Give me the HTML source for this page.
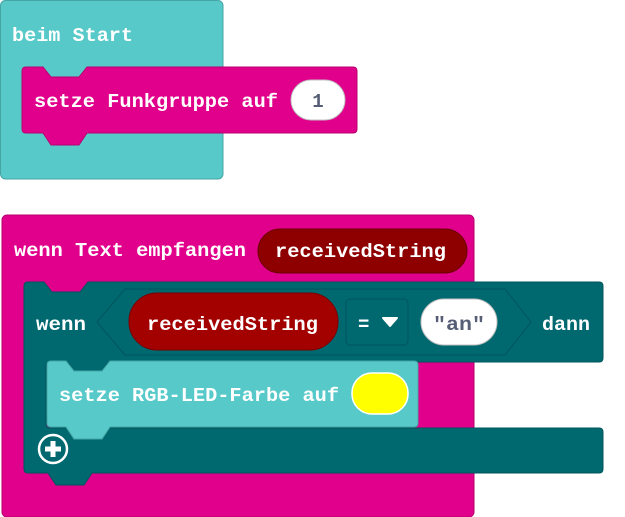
<!DOCTYPE html>
<html><head><meta charset="utf-8"><style>
html,body{margin:0;padding:0;background:#fff;width:625px;height:517px;overflow:hidden}
text{font-family:"Liberation Mono","DejaVu Sans Mono",monospace;font-weight:bold;font-size:19px;fill:#fff}
</style></head><body>
<svg width="625" height="517" viewBox="0 0 625 517" xmlns="http://www.w3.org/2000/svg">
<!-- beim Start -->
<rect x="0.5" y="0.5" width="222.5" height="178.5" rx="5" fill="#57c9c9" stroke="#45a5a5"/>
<text x="12" y="41" textLength="121" lengthAdjust="spacingAndGlyphs">beim Start</text>
<path d="M26,67 H43 L51,77 H79 L87,67 H353 q4,0 4,4 V129 q0,4 -4,4 H87 L79,145 H51 L43,133 H26 q-4,0 -4,-4 V71 q0,-4 4,-4Z" fill="#e1008b" stroke="#b8006f"/>
<text x="34" y="107" textLength="244" lengthAdjust="spacingAndGlyphs">setze Funkgruppe auf</text>
<rect x="291" y="80" width="54" height="40" rx="20" fill="#fff" stroke="#c0c0c0"/>
<text x="318" y="107" text-anchor="middle" style="fill:#575e75">1</text>

<!-- event -->
<rect x="2" y="215" width="472" height="302" rx="5" fill="#e1008b" stroke="#b8006f"/>
<text x="14" y="256" textLength="232" lengthAdjust="spacingAndGlyphs">wenn Text empfangen</text>
<rect x="258" y="229" width="209" height="44" rx="22" fill="#8e0000" stroke="#6e0000"/>
<text x="275" y="257" textLength="171" lengthAdjust="spacingAndGlyphs">receivedString</text>

<!-- if block -->
<path d="M28,282 H44 L52,292 H80 L88,282 H599 q4,0 4,4 V358 q0,4 -4,4 H110 L102,372 H74 L66,362 H50 q-4,0 -4,4 V424 q0,4 4,4 H599 q4,0 4,4 V469 q0,4 -4,4 H92 L84,485 H56 L48,473 H28 q-4,0 -4,-4 V286 q0,-4 4,-4Z" fill="#006970" stroke="#00555b"/>
<text x="36" y="330" textLength="50" lengthAdjust="spacingAndGlyphs">wenn</text>
<path d="M97,322 L125,289 H505 L531,322 L505,355 H125Z" fill="#006970" stroke="#00555b"/>
<rect x="129" y="293" width="209" height="57" rx="28" fill="#a30000" stroke="#7a0000"/>
<text x="147" y="330" textLength="171" lengthAdjust="spacingAndGlyphs">receivedString</text>
<rect x="346" y="299" width="62" height="46" rx="4" fill="#006970" stroke="#00555b"/>
<text x="358" y="330">=</text>
<path d="M383,318 H397 L390,326Z" fill="#fff" stroke="#fff" stroke-linejoin="round" stroke-width="2"/>
<rect x="421" y="299" width="76" height="46" rx="23" fill="#fff" stroke="#c0c0c0"/>
<text x="433" y="330" textLength="52" lengthAdjust="spacingAndGlyphs" style="fill:#575e75">"an"</text>
<text x="542" y="330" textLength="48" lengthAdjust="spacingAndGlyphs">dann</text>

<!-- setze RGB -->
<path d="M51,361 H66 L74,371 H102 L110,361 H414 q4,0 4,4 V423 q0,4 -4,4 H110 L102,439 H74 L66,427 H51 q-4,0 -4,-4 V365 q0,-4 4,-4Z" fill="#57c9c9" stroke="#45a5a5"/>
<text x="59" y="401" textLength="280" lengthAdjust="spacingAndGlyphs">setze RGB-LED-Farbe auf</text>
<rect x="352" y="373" width="56" height="41" rx="20" fill="#ffff00" stroke="#fff" stroke-width="1.5"/>

<!-- plus -->
<circle cx="53" cy="449" r="14" fill="none" stroke="#fff" stroke-width="2.5"/>
<path d="M53,441 V457 M45,449 H61" stroke="#fff" stroke-width="5"/>
</svg>
</body></html>
